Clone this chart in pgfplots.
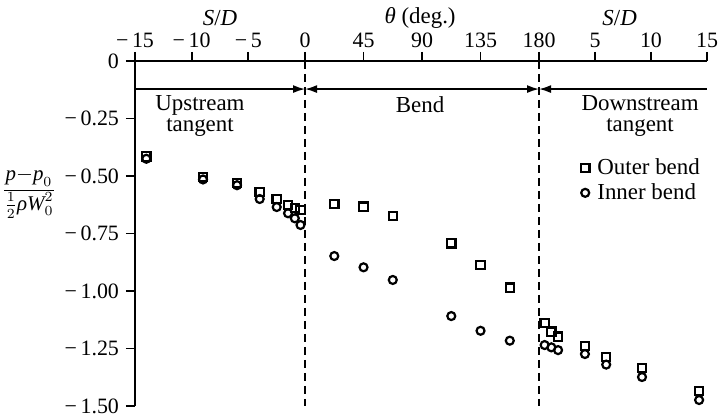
\documentclass[border=0pt]{standalone}
\usepackage{fontspec}
\setmainfont{Liberation Serif}
\usepackage{pgfplots}
\usepackage{pgfplotstable}
\pgfplotsset{compat=1.18}
\usetikzlibrary{arrows.meta}

% Wall pressure coefficient along the pipe: upstream tangent (S/D),
% bend (theta in degrees) and downstream tangent (S/D).
\pgfplotstableread{
sd     outer   inner
-14    -0.415  -0.425
-9     -0.505  -0.515
-6     -0.530  -0.540
-4     -0.570  -0.600
-2.5   -0.600  -0.635
-1.5   -0.626  -0.662
-0.9   -0.640  -0.684
-0.4   -0.648  -0.713
}\upstream

\pgfplotstableread{
theta  outer   inner
22.5   -0.622  -0.848
45     -0.633  -0.897
67.5   -0.673  -0.952
112.5  -0.793  -1.109
135    -0.887  -1.173
157.5  -0.986  -1.216
}\bend

\pgfplotstableread{
sd     outer   inner
0.5    -1.140  -1.235
1.1    -1.177  -1.245
1.7    -1.199  -1.257
4.1    -1.239  -1.274
6.0    -1.287  -1.320
9.2    -1.335  -1.374
14.3   -1.435  -1.474
}\downstream

% horizontal scale: one S/D unit upstream/downstream in bend-degree units
\def\upk{8.72}
\def\dnk{8.61}

\begin{document}
\begin{tikzpicture}
\begin{axis}[
  scale only axis,
  width=286bp, height=172.5bp,
  xmin=-130.8, xmax=309.2,
  ymin=-1.5, ymax=0,
  axis x line*=top,
  axis y line*=left,
  axis line style={line width=1bp},
  clip=false,
  tick align=outside,
  major tick length=4.5bp,
  tick style={line width=0.9bp, black},
  xtick={-130.8,-87.2,-43.6,0,45,90,135,180,223.05,266.1,309.2},
  xticklabels={−\,15,−\,10,−\,5,0,45,90,135,180,5,10,15},
  ytick={0,-0.25,-0.5,-0.75,-1,-1.25,-1.5},
  yticklabels={0,−\,0.25,−\,0.50,−\,0.75,−\,1.00,−\,1.25,−\,1.50},
  tick label style={font=\fontsize{11}{12}\selectfont},
  xticklabel style={yshift=-1.5bp},
  legend style={at={(axis cs:212,-0.405)}, anchor=north west, draw=none,
    fill=none, inner sep=0pt, row sep=-1bp, column sep=2bp,
    font=\fontsize{11.5}{13}\selectfont},
  legend cell align=left,
  outer/.style={only marks, mark=square, mark size=2.1pt,
    mark options={line width=1.1bp, black}},
  inner/.style={only marks, mark=o, mark size=2.0pt,
    mark options={line width=1.1bp, black}},
]
\addplot[outer] table[x expr=\thisrow{sd}*\upk, y=outer] {\upstream};
\addlegendentry{Outer bend}
\addplot[inner] table[x expr=\thisrow{sd}*\upk, y=inner] {\upstream};
\addlegendentry{Inner bend}
\addplot[outer, forget plot] table[x=theta, y=outer] {\bend};
\addplot[inner, forget plot] table[x=theta, y=inner] {\bend};
\addplot[outer, forget plot] table[x expr=180+\thisrow{sd}*\dnk, y=outer] {\downstream};
\addplot[inner, forget plot] table[x expr=180+\thisrow{sd}*\dnk, y=inner] {\downstream};

% section boundaries
\draw[line width=1bp, dash pattern=on 4bp off 2.5bp] (axis cs:0,0) -- (axis cs:0,-1.5);
\draw[line width=1bp, dash pattern=on 4bp off 2.5bp] (axis cs:180,0) -- (axis cs:180,-1.5);

% section extents
\tikzset{ah/.tip={Latex[length=6bp,width=4bp]}}
\draw[line width=0.8bp, -ah] (axis cs:-130.8,-0.122) -- (axis cs:0,-0.122);
\draw[line width=0.8bp, ah-ah] (axis cs:0,-0.122) -- (axis cs:180,-0.122);
\draw[line width=0.8bp, ah-] (axis cs:180,-0.122) -- (axis cs:309.2,-0.122);

\begin{scope}[every node/.style={font=\fontsize{11.5}{11}\selectfont, align=center}]
\node at (axis cs:-80.8,-0.239) {Upstream\\tangent};
\node at (axis cs:88.5,-0.191) {Bend};
\node at (axis cs:257.7,-0.239) {Downstream\\tangent};
\node at (axis cs:-65.4,0) [yshift=21.5bp] {\textit{S}/\textit{D}};
\node at (axis cs:88.5,0) [yshift=21.5bp] {\textit{θ} (deg.)};
\node at (axis cs:242,0) [yshift=21.5bp] {\textit{S}/\textit{D}};
\node[font=\fontsize{10.5}{11}\selectfont, inner sep=0pt] at (axis cs:-130.8,-0.574) [xshift=-53bp]
  {$\displaystyle\frac{\textit{p}{-}\textit{p}_{0}}{\frac{1}{2}\textit{ρ}\textit{W}_{0}^{2}}$};
\end{scope}

\coordinate (boxSW) at (rel axis cs:0,0);
\coordinate (boxNE) at (rel axis cs:1,1);
\end{axis}
\pgfresetboundingbox
\path[use as bounding box] ([shift={(-67.5bp,-4.5bp)}]boxSW) rectangle ([shift={(6bp,30.5bp)}]boxNE);
\end{tikzpicture}
\end{document}
